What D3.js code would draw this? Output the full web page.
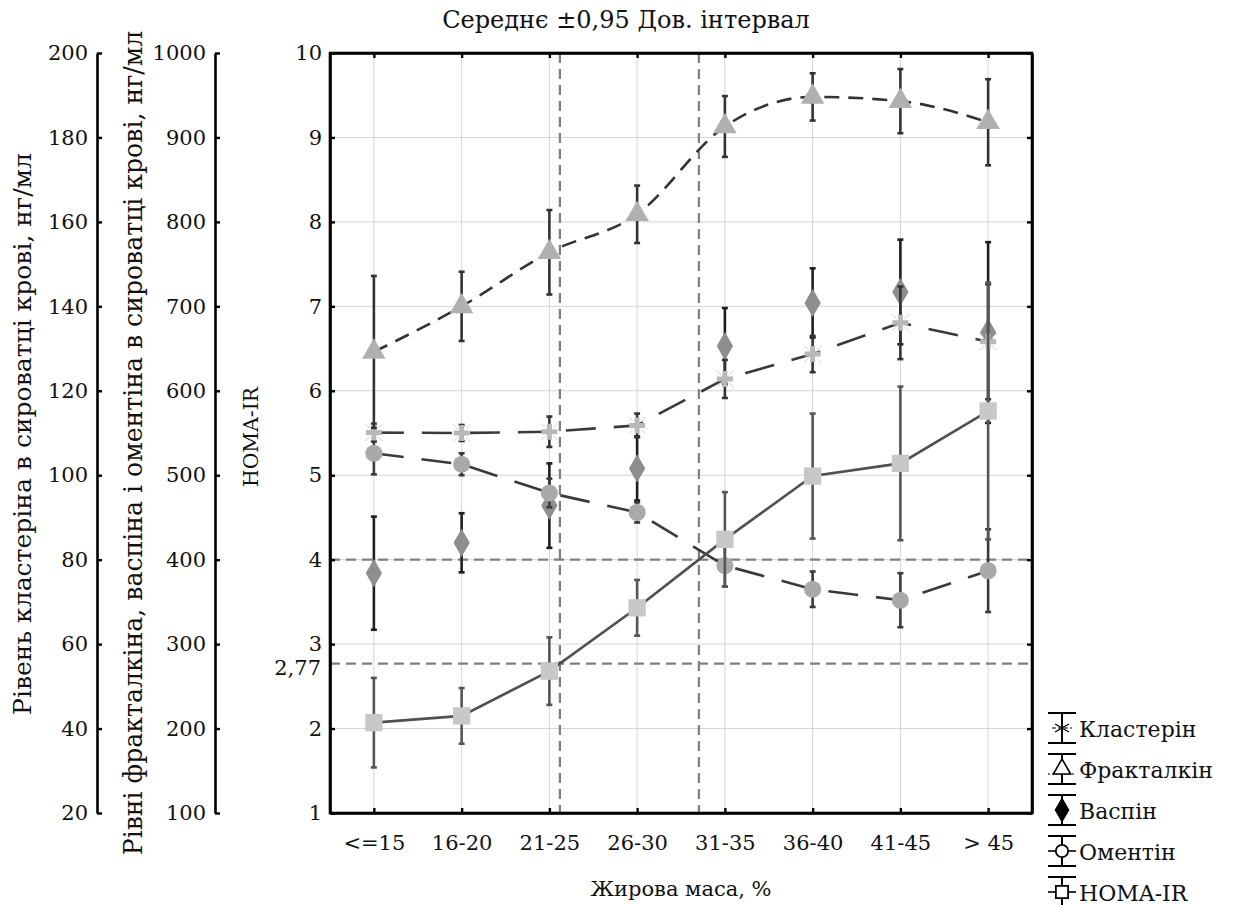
<!DOCTYPE html>
<html>
<head>
<meta charset="utf-8">
<script src="https://cdnjs.cloudflare.com/ajax/libs/d3/7.8.5/d3.min.js"></script>
</head>
<body style="margin:0">
<div id="chart-area"></div>
<script>

// DATA
// =================

var groups = ['<=15', '16-20', '21-25', '26-30', '31-35', '36-40', '41-45', '> 45'];

// mean and half-width of 0,95 CI
var klasterin   = [110.1, 110.0, 110.3, 111.8, 122.8, 128.7, 136.1, 131.6];
var klasterinCi = [2.1, 1.9, 3.6, 2.8, 4.5, 4.3, 8.6, 13.6];

var fraktalkin   = [646, 700, 764, 809, 913, 948, 943, 918];
var fraktalkinCi = [90, 41, 50, 34, 36, 28, 38, 51];

var vaspin   = [384, 420, 464, 508, 653, 704, 717, 669];
var vaspinCi = [67, 35, 50, 38, 45, 41, 62, 107];

var omentin   = [526, 513, 479, 456, 393, 365, 352, 387];
var omentinCi = [25, 13, 17, 12, 25, 21, 32, 49];

var homa   = [2.07, 2.15, 2.68, 3.43, 4.24, 4.99, 5.14, 5.76];
var homaCi = [0.53, 0.33, 0.40, 0.33, 0.56, 0.74, 0.91, 1.52];

var homaCuts = [2.77, 4];

var klasterinTicks = [20, 40, 60, 80, 100, 120, 140, 160, 180, 200];
var fraktTicks = [100, 200, 300, 400, 500, 600, 700, 800, 900, 1000];
var homaTicks = [1, 2, 3, 4, 5, 6, 7, 8, 9, 10];

var legendNames = ['Кластерін', 'Фракталкін', 'Васпін', 'Оментін', 'HOMA-IR'];

// CANVAS + MARGINS
// =================

var FONT = 'DejaVu Serif';
var margin, width, height, svg, g;

margin = { left: 330, right: 220, top: 53, bottom: 92 };
width = 1252 - margin.left - margin.right;
height = 905 - margin.top - margin.bottom;

svg = d3.select('#chart-area')
    .append('svg')
        .attr('width', 1252)
        .attr('height', 905)
        .attr('font-family', FONT);

g = svg.append('g')
    .attr('transform', 'translate(' + margin.left + ', ' + margin.top + ')');

// SCALES
// =================

var x, xi, yH, yK, yF;

x = d3.scalePoint()
    .domain(groups)
    .range([0, width])
    .padding(0.5);

// fractional category index -> px (for cut lines)
xi = d3.scaleLinear()
    .domain([0, groups.length - 1])
    .range([x(groups[0]), x(groups[groups.length - 1])]);

yH = d3.scaleLinear().domain([1, 10]).range([height, 0]);
yK = d3.scaleLinear().domain([20, 200]).range([height, 0]);
yF = d3.scaleLinear().domain([100, 1000]).range([height, 0]);

// GRID
// =================

var grid = g.append('g').attr('class', 'grid');

grid.selectAll('line.h')
    .data(homaTicks.slice(1, -1))
    .enter().append('line')
        .attr('class', 'h')
        .attr('x1', 0)
        .attr('x2', width)
        .attr('y1', d => yH(d))
        .attr('y2', d => yH(d))
        .attr('stroke', '#d4d4d4')
        .attr('stroke-width', 1);

grid.selectAll('line.v')
    .data(groups)
    .enter().append('line')
        .attr('class', 'v')
        .attr('x1', d => x(d))
        .attr('x2', d => x(d))
        .attr('y1', 0)
        .attr('y2', height)
        .attr('stroke', '#d4d4d4')
        .attr('stroke-width', 1);

// REFERENCE LINES
// =================

// where HOMA-IR crosses each cut value
var cutIdx = homaCuts.map(c => {
    for (var i = 0; i < homa.length - 1; i++) {
        if (homa[i] <= c && homa[i + 1] >= c) {
            return i + (c - homa[i]) / (homa[i + 1] - homa[i]);
        }
    }
    return null;
});

g.selectAll('line.cut-h')
    .data(homaCuts)
    .enter().append('line')
        .attr('class', 'cut-h')
        .attr('x1', 0)
        .attr('x2', width)
        .attr('y1', d => yH(d))
        .attr('y2', d => yH(d))
        .attr('stroke', '#7f7f7f')
        .attr('stroke-width', 2.2)
        .attr('stroke-dasharray', '10,6');

g.selectAll('line.cut-v')
    .data(cutIdx)
    .enter().append('line')
        .attr('class', 'cut-v')
        .attr('x1', d => xi(d))
        .attr('x2', d => xi(d))
        .attr('y1', 0)
        .attr('y2', height)
        .attr('stroke', '#7f7f7f')
        .attr('stroke-width', 2.2)
        .attr('stroke-dasharray', '10,6');

// SERIES
// =================

function errorBars(vals, ci, y, color) {
    var eb = g.append('g').attr('class', 'errbars');
    var cap = 3;
    vals.forEach((v, i) => {
        var cx = x(groups[i]);
        var y0 = y(v - ci[i]), y1 = y(v + ci[i]);
        eb.append('line')
            .attr('x1', cx).attr('x2', cx)
            .attr('y1', y0).attr('y2', y1)
            .attr('stroke', color).attr('stroke-width', 2.6);
        [y0, y1].forEach(yy => {
            eb.append('line')
                .attr('x1', cx - cap).attr('x2', cx + cap)
                .attr('y1', yy).attr('y2', yy)
                .attr('stroke', color).attr('stroke-width', 2.6);
        });
    });
}

function seriesLine(vals, y, dash, color, curve) {
    var line = d3.line()
        .x((d, i) => x(groups[i]))
        .y(d => y(d))
        .curve(curve || d3.curveLinear);
    g.append('path')
        .datum(vals)
        .attr('d', line)
        .attr('fill', 'none')
        .attr('stroke', color)
        .attr('stroke-width', 2.6)
        .attr('stroke-dasharray', dash);
}

function markers(vals, y, type, size, fill) {
    g.append('g').selectAll('path')
        .data(vals)
        .enter().append('path')
            .attr('transform', (d, i) => 'translate(' + x(groups[i]) + ',' + y(d) + ')')
            .attr('d', d3.symbol().type(type).size(size))
            .attr('fill', fill);
}

function starMarker(sel, arm) {
    // light plus with faint diagonal rays
    var r0 = arm * 0.7, r1 = arm * 1.5;
    [45, 135, 225, 315].forEach(a => {
        var rad = a * Math.PI / 180;
        sel.append('line')
            .attr('x1', Math.cos(rad) * r0).attr('y1', Math.sin(rad) * r0)
            .attr('x2', Math.cos(rad) * r1).attr('y2', Math.sin(rad) * r1)
            .attr('stroke', '#d0d0d0').attr('stroke-width', 1);
    });
    sel.append('path')
        .attr('d', 'M' + (-arm) + ',0H' + arm + 'M0,' + (-arm) + 'V' + arm)
        .attr('stroke', '#b8b8b8')
        .attr('stroke-width', 5);
}

// Vaspin (no connecting line)
errorBars(vaspin, vaspinCi, yF, '#1e1e1e');
markers(vaspin, yF, d3.symbolDiamond, 230, '#8e8e8e');

// Omentin
seriesLine(omentin, yF, '30,18', '#3a3a3a');
errorBars(omentin, omentinCi, yF, '#3a3a3a');
markers(omentin, yF, d3.symbolCircle, 230, '#a9a9a9');

// Klasterin
seriesLine(klasterin, yK, '30,18', '#3a3a3a');
errorBars(klasterin, klasterinCi, yK, '#333');
g.append('g').selectAll('g')
    .data(klasterin)
    .enter().append('g')
        .attr('transform', (d, i) => 'translate(' + x(groups[i]) + ',' + yK(d) + ')')
        .each(function () { starMarker(d3.select(this), 8); });

// Fraktalkin
seriesLine(fraktalkin, yF, '15,9', '#333', d3.curveMonotoneX);
errorBars(fraktalkin, fraktalkinCi, yF, '#333');
markers(fraktalkin, yF, d3.symbolTriangle, 240, '#b0b0b0');

// HOMA-IR
seriesLine(homa, yH, null, '#505050');
errorBars(homa, homaCi, yH, '#555');
markers(homa, yH, d3.symbolSquare, 300, '#c8c8c8');

// AXES
// =================

var tickFont = '21px';

// frame
g.append('rect')
    .attr('x', 0).attr('y', 0)
    .attr('width', width).attr('height', height)
    .attr('fill', 'none')
    .attr('stroke', '#000')
    .attr('stroke-width', 2.6);

// HOMA-IR left
g.append('g')
    .attr('class', 'y axis')
    .call(d3.axisLeft(yH).tickValues(homaTicks).tickSizeInner(-5).tickSizeOuter(0).tickPadding(8));

// right, top, bottom ticks (inside)
g.append('g')
    .attr('transform', 'translate(' + width + ',0)')
    .call(d3.axisRight(yH).tickValues(homaTicks).tickSizeInner(-5).tickSizeOuter(0).tickFormat(''));
g.append('g')
    .call(d3.axisTop(x).tickSizeInner(-5).tickSizeOuter(0).tickFormat(''));
g.append('g')
    .attr('class', 'x axis')
    .attr('transform', 'translate(0,' + height + ')')
    .call(d3.axisBottom(x).tickSizeInner(-5).tickSizeOuter(0).tickPadding(22));

// klasterin + fraktalkin axes on the left
g.append('g')
    .attr('class', 'y axis')
    .attr('transform', 'translate(' + (97 - margin.left) + ',0)')
    .call(d3.axisLeft(yK).tickValues(klasterinTicks).tickSizeInner(-5).tickSizeOuter(0).tickPadding(9));

g.append('g')
    .attr('class', 'y axis')
    .attr('transform', 'translate(' + (215 - margin.left) + ',0)')
    .call(d3.axisLeft(yF).tickValues(fraktTicks).tickFormat(d3.format('d')).tickSizeInner(-5).tickSizeOuter(0).tickPadding(9));

g.selectAll('.domain')
    .attr('stroke', '#000')
    .attr('stroke-width', 2.6);
g.selectAll('.tick line')
    .attr('stroke', '#000')
    .attr('stroke-width', 2.4);
g.selectAll('.tick text')
    .attr('font-size', tickFont)
    .attr('fill', '#111');

// 2,77 label
g.append('text')
    .attr('x', -9)
    .attr('y', yH(homaCuts[0]))
    .attr('dy', '0.55em')
    .attr('text-anchor', 'end')
    .attr('font-size', tickFont)
    .text('2,77');

// LABELS
// =================

// scale font so the label spans a given length
function fitText(sel, target) {
    var len = sel.node().getComputedTextLength();
    var fs = parseFloat(sel.attr('font-size'));
    sel.attr('font-size', (fs * target / len).toFixed(2) + 'px');
    return sel;
}

var title = svg.append('text')
    .attr('x', 626)
    .attr('y', 28)
    .attr('font-size', '22px')
    .attr('text-anchor', 'middle')
    .text('Середнє ±0,95 Дов. інтервал');

svg.append('text')
    .attr('x', margin.left + width / 2)
    .attr('y', 896)
    .attr('font-size', '21px')
    .attr('text-anchor', 'middle')
    .text('Жирова маса, %');

var kTitle = svg.append('text')
    .attr('transform', 'translate(31, 434) rotate(-90)')
    .attr('font-size', '22px')
    .attr('text-anchor', 'middle')
    .text('Рівень кластеріна в сироватці крові, нг/мл');

var fTitle = svg.append('text')
    .attr('transform', 'translate(142, 443) rotate(-90)')
    .attr('font-size', '22px')
    .attr('text-anchor', 'middle')
    .text('Рівні фракталкіна, васпіна і оментіна в сироватці крові, нг/мл');

var hTitle = svg.append('text')
    .attr('transform', 'translate(258, 437) rotate(-90)')
    .attr('font-size', '20px')
    .attr('text-anchor', 'middle')
    .text('HOMA-IR');

// LEGEND
// =================

var legend = svg.append('g')
    .attr('transform', 'translate(1048, 737)');

legendNames.forEach((name, i) => {
    var item = legend.append('g')
        .attr('transform', 'translate(0,' + (i * 41) + ')');
    var cy = -9, cx = 14;

    // error bar glyph
    item.append('path')
        .attr('d', 'M0,' + (cy - 15) + 'H28M0,' + (cy + 15) + 'H28M' + cx + ',' + (cy - 15) + 'V' + (cy + 15))
        .attr('stroke', '#000')
        .attr('stroke-width', 2)
        .attr('fill', 'none');

    var m = item.append('g').attr('transform', 'translate(' + cx + ',' + cy + ')');
    if (i === 0) {
        m.append('path').attr('d', 'M-10,0H10').attr('stroke', '#000').attr('stroke-width', 1.2).attr('stroke-dasharray', '4,2');
        m.append('path')
            .attr('d', d3.symbol().type(d3.symbolAsterisk).size(180))
            .attr('stroke', '#000').attr('stroke-width', 1.4).attr('fill', 'none');
    } else if (i === 1) {
        m.append('path').attr('d', 'M-14,5H14').attr('stroke', '#000').attr('stroke-width', 1.2).attr('stroke-dasharray', '2,2');
        m.append('path')
            .attr('d', d3.symbol().type(d3.symbolTriangle).size(130))
            .attr('stroke', '#000').attr('stroke-width', 1.6).attr('fill', '#fff');
    } else if (i === 2) {
        m.append('path')
            .attr('d', d3.symbol().type(d3.symbolDiamond).size(190))
            .attr('fill', '#000');
    } else if (i === 3) {
        m.append('path').attr('d', 'M-14,0H14').attr('stroke', '#000').attr('stroke-width', 1.6);
        m.append('path')
            .attr('d', d3.symbol().type(d3.symbolCircle).size(120))
            .attr('stroke', '#000').attr('stroke-width', 1.8).attr('fill', '#fff');
    } else {
        m.append('path').attr('d', 'M-14,0H14').attr('stroke', '#000').attr('stroke-width', 1.6);
        m.append('path')
            .attr('d', d3.symbol().type(d3.symbolSquare).size(150))
            .attr('stroke', '#000').attr('stroke-width', 1.8).attr('fill', '#fff');
    }

    item.append('text')
        .attr('x', 31)
        .attr('y', 0)
        .attr('font-size', '22px')
        .text(name);
});

// one serif face everywhere (axis groups default to sans-serif)
svg.selectAll('text')
    .attr('font-family', FONT)
    .attr('fill', '#111');

fitText(title, 368);
fitText(kTitle, 562);
fitText(fTitle, 825);
fitText(hTitle, 100);

</script>
</body>
</html>
